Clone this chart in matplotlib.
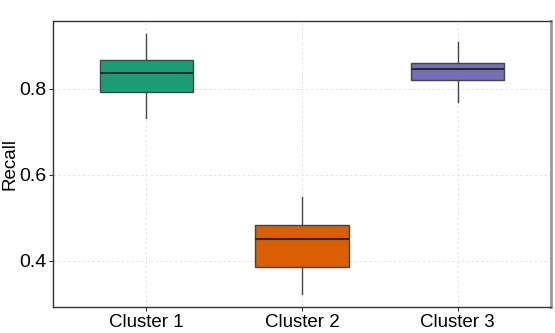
import matplotlib
matplotlib.use("Agg")
import matplotlib.pyplot as plt

categories = ["Cluster 1", "Cluster 2", "Cluster 3"]
whislo = [0.733, 0.323, 0.769]
q1 = [0.793, 0.387, 0.820]
med = [0.838, 0.452, 0.846]
q3 = [0.867, 0.483, 0.860]
whishi = [0.928, 0.548, 0.910]
colors = ["#1B9E77", "#D95F02", "#7570B3"]
yticks = [0.4, 0.6, 0.8]

plt.rcParams['font.family'] = ['Liberation Sans', 'DejaVu Sans']

fig = plt.figure(figsize=(5.55, 3.33), dpi=100)
ax = fig.add_axes([53/555, 26/333, 498/555, 286/333])

stats = []
for i, c in enumerate(categories):
    stats.append(dict(label=c, whislo=whislo[i], q1=q1[i], med=med[i], q3=q3[i], whishi=whishi[i], fliers=[]))

positions = list(range(1, len(categories) + 1))
bp = ax.bxp(stats, positions=positions, widths=0.6, patch_artist=True, showcaps=False,
            boxprops=dict(edgecolor="#444444", linewidth=1.0),
            medianprops=dict(color="#2b2b2b", linewidth=1.5),
            whiskerprops=dict(color="#444444", linewidth=1.0), zorder=3)
for patch, col in zip(bp['boxes'], colors):
    patch.set_facecolor(col)

ax.set_xlim(0.4, 3.6)
ax.set_ylim(0.293, 0.958)
ax.set_yticks(yticks)
ax.set_yticklabels([f"{v:.1f}" for v in yticks])
ax.set_xticks(positions)
ax.set_xticklabels(categories)
ax.tick_params(axis='x', labelsize=13.5, length=3, pad=2, color="#333333", labelcolor="black")
ax.tick_params(axis='y', labelsize=14, length=3, pad=1.5, color="#333333", labelcolor="black")
ax.set_ylabel("Recall", fontsize=13.5)
ax.yaxis.set_label_coords(-0.07, 0.5)

ax.grid(True, linestyle=(0, (2.5, 2.5)), color="#e4e4e4", linewidth=0.7, zorder=0)
ax.set_axisbelow(True)

for s in ['left', 'bottom', 'top']:
    ax.spines[s].set_color("#333333")
    ax.spines[s].set_linewidth(1.0)
ax.spines['right'].set_color("#999999")
ax.spines['right'].set_linewidth(2.0)

fig.savefig("out.png", dpi=100)
